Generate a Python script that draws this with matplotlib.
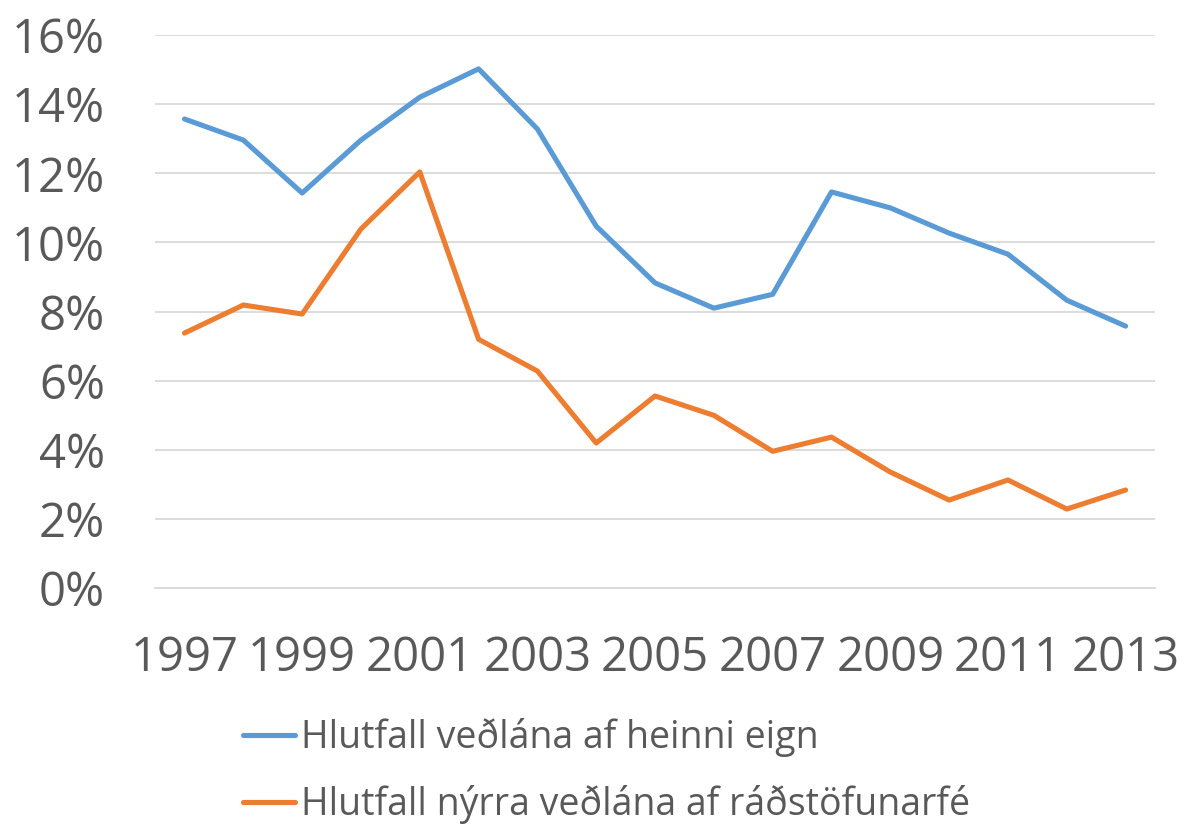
import matplotlib.pyplot as plt
from matplotlib.ticker import FuncFormatter

plt.rcParams['font.family'] = ['Open Sans', 'DejaVu Sans']

years = list(range(1997, 2014))
# Hlutfall veðlána af heinni eign (%)
eign = [13.57, 12.96, 11.43, 12.96, 14.2, 15.02, 13.28, 10.47, 8.83, 8.1,
        8.5, 11.46, 11.0, 10.27, 9.66, 8.33, 7.58]
# Hlutfall nýrra veðlána af ráðstöfunarfé (%)
radst = [7.38, 8.19, 7.93, 10.39, 12.04, 7.2, 6.28, 4.2, 5.56, 5.0,
         3.96, 4.37, 3.36, 2.55, 3.13, 2.29, 2.84]
labels = ['Hlutfall veðlána af heinni eign',
          'Hlutfall nýrra veðlána af ráðstöfunarfé']
yticks = [0, 2, 4, 6, 8, 10, 12, 14, 16]

text_col = '#595959'
grid_col = '#D9D9D9'

fig = plt.figure(figsize=(11.84, 8.25), dpi=100)
ax = fig.add_axes([0.131, 0.287, 0.8445, 0.6706])

ax.plot(years, eign, color='#5B9BD5', lw=3.7, label=labels[0],
        solid_joinstyle='round', solid_capstyle='round')
ax.plot(years, radst, color='#ED7D31', lw=3.7, label=labels[1],
        solid_joinstyle='round', solid_capstyle='round')

ax.set_xlim(1996.5, 2013.5)
ax.set_ylim(0, 16)
ax.set_yticks(yticks)
ax.yaxis.set_major_formatter(FuncFormatter(lambda v, p: '%d%%' % v))
ax.set_xticks(years[::2])
ax.tick_params(length=0, labelsize=34, colors=text_col)
ax.tick_params(axis='x', pad=33)
ax.tick_params(axis='y', pad=36)

ax.grid(axis='y', color=grid_col, lw=1.3)
ax.set_axisbelow(True)
for s in ['top', 'right', 'left']:
    ax.spines[s].set_visible(False)
ax.spines['bottom'].set_color(grid_col)
ax.spines['bottom'].set_linewidth(1.3)

fig.legend(loc='center left', bbox_to_anchor=(0.205, 0.065), bbox_transform=fig.transFigure,
           frameon=False, fontsize=27, labelcolor=text_col, handlelength=1.4,
           handletextpad=0.15, labelspacing=0.75, borderpad=0, borderaxespad=0)

fig.savefig('out.png', dpi=100)
